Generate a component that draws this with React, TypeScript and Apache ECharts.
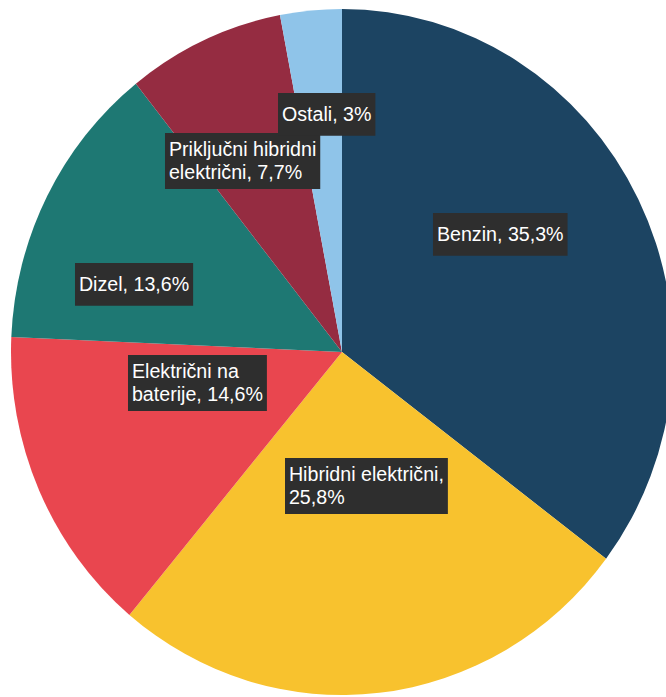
import React, { useEffect, useRef } from "react";
import * as echarts from "echarts";

const categories = [
  "Benzin",
  "Hibridni električni",
  "Električni na baterije",
  "Dizel",
  "Priključni hibridni električni",
  "Ostali",
];
const values = [35.3, 25.8, 14.6, 13.6, 7.7, 3];
const colors = ["#1c4462", "#f8c22e", "#e9464f", "#1e7873", "#952c41", "#8fc4e9"];
// label text lines (line breaks as in the reference)
const labelNames = [
  "Benzin",
  "Hibridni električni",
  "Električni na\nbaterije",
  "Dizel",
  "Priključni hibridni\nelektrični",
  "Ostali",
];
const valueOnNewLine = [false, true, false, false, false, false];
const twoLines = [false, true, true, false, true, false];
// label box top-left positions (px, on the page)
const labelPos: [number, number][] = [
  [433, 213],
  [285, 458],
  [128, 355],
  [75, 263],
  [165, 133],
  [278, 93],
];

const CX = 342;
const CY = 352;
const R = 337;
const SX = 331 / R; // the reference pie is slightly oval
const SY = 343 / R;

const fmt = (v: number) => String(v).replace(".", ",");

export default function App() {
  const ref = useRef<HTMLDivElement>(null);
  useEffect(() => {
    if (!ref.current) return;
    const chart = echarts.init(ref.current, null, { renderer: "svg" });
    chart.setOption({
      animation: false,
      series: [
        {
          type: "pie",
          center: [CX, CY],
          radius: R,
          startAngle: 90,
          clockwise: true,
          silent: true,
          itemStyle: { borderWidth: 0 },
          labelLine: { show: false },
          label: {
            show: true,
            position: "inside",
            color: "#ffffff",
            fontFamily: "Liberation Sans, Arial, sans-serif",
            fontSize: 20,
            lineHeight: 22,
            backgroundColor: "#2e2e2e",
            align: "left",
            verticalAlign: "top",
            formatter: (p: any) =>
              labelNames[p.dataIndex] +
              (valueOnNewLine[p.dataIndex] ? ",\n" : ", ") +
              fmt(values[p.dataIndex]) +
              "%",
          },
          labelLayout: (p: any) => ({
            x: CX + (labelPos[p.dataIndex][0] - CX) / SX,
            y: CY + (labelPos[p.dataIndex][1] - CY) / SY,
            align: "left",
            verticalAlign: "top",
          }),
          data: categories.map((c, i) => ({
            name: c,
            value: values[i],
            itemStyle: { color: colors[i] },
            label: { padding: twoLines[i] ? [5, 4, 6, 4] : [10, 4, 10, 4] },
          })),
        },
      ],
    });
    return () => chart.dispose();
  }, []);
  return (
    <div
      style={{
        position: "absolute",
        left: 0,
        top: 0,
        width: 666,
        height: 697,
        overflow: "hidden",
      }}
    >
      <div
        ref={ref}
        style={{
          position: "absolute",
          left: 0,
          top: 0,
          width: 690,
          height: 697,
          transform: `scale(${SX}, ${SY})`,
          transformOrigin: `${CX}px ${CY}px`,
        }}
      />
    </div>
  );
}
